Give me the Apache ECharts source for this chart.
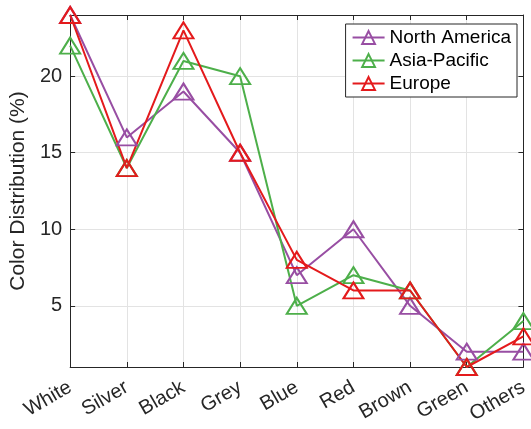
<!DOCTYPE html>
<html>
<head>
<meta charset="utf-8">
<script src="https://cdn.jsdelivr.net/npm/echarts@6/dist/echarts.min.js"></script>
<style>html,body{margin:0;padding:0;background:#fff}#c{width:531px;height:429px}</style>
</head>
<body>
<div id="c"></div>
<script>
var categories = ['White','Silver','Black','Grey','Blue','Red','Brown','Green','Others'];
var northAmerica = [24,16,19,15,7,10,5,2,2];
var asiaPacific = [22,14,21,20,5,7,6,1,4];
var europe = [24,14,23,15,8,6,6,1,3];
var yTicks = [5,10,15,20];
var seriesNames = ['North America','Asia-Pacific','Europe'];
var colors = ['#984EA3','#4DAF4A','#E41A1C'];

var font = 'Liberation Sans, Arial, Helvetica, sans-serif';
var axisColor = '#262626';
var gridColor = '#e3e3e3';

function mkSeries(name, data, color) {
  return {
    name: name, type: 'line', data: data,
    symbol: 'triangle', symbolSize: [20,16],
    lineStyle: {color: color, width: 2},
    itemStyle: {color: 'rgba(0,0,0,0)', borderColor: color, borderWidth: 2},
    clip: false,
    emphasis: {disabled: true},
    z: 3
  };
}

var chart = echarts.init(document.getElementById('c'), null, {renderer: 'canvas'});
chart.setOption({
  animation: false,
  backgroundColor: '#fff',
  grid: {left: 65, right: 5, top: 15, bottom: 62, containLabel: false},
  legend: {
    orient: 'vertical', right: 14, top: 24,
    padding: [4, 6, 4, 6], itemGap: 4, itemWidth: 32, itemHeight: 16,
    borderColor: axisColor, borderWidth: 1, backgroundColor: '#fff',
    textStyle: {fontSize: 19, color: '#000', fontFamily: font},
    data: seriesNames
  },
  xAxis: [{
    type: 'category', data: categories, boundaryGap: false,
    axisLine: {lineStyle: {color: axisColor, width: 1}},
    axisTick: {inside: true, length: 5, interval: 0, lineStyle: {color: axisColor}},
    axisLabel: {rotate: 30, fontSize: 20, color: axisColor, fontFamily: font, margin: 19, interval: 0},
    splitLine: {show: true, interval: 0, lineStyle: {color: gridColor, width: 1}}
  }, {
    type: 'category', data: categories, boundaryGap: false, position: 'top',
    axisLine: {lineStyle: {color: axisColor, width: 1}},
    axisTick: {inside: true, length: 5, interval: 0, lineStyle: {color: axisColor}},
    axisLabel: {show: false},
    splitLine: {show: false}
  }],
  yAxis: [{
    type: 'value', min: 1, max: 24,
    name: 'Color Distribution (%)', nameLocation: 'middle', nameGap: 34,
    nameTextStyle: {fontSize: 21, color: axisColor, fontFamily: font},
    axisLine: {show: true, lineStyle: {color: axisColor, width: 1}},
    axisTick: {show: true, inside: true, length: 5, customValues: yTicks, lineStyle: {color: axisColor}},
    axisLabel: {fontSize: 20, color: axisColor, fontFamily: font, margin: 8, customValues: yTicks},
    splitLine: {show: true, lineStyle: {color: gridColor, width: 1}}
  }, {
    type: 'value', min: 1, max: 24, position: 'right',
    axisLine: {show: true, lineStyle: {color: axisColor, width: 1}},
    axisTick: {show: true, inside: true, length: 5, customValues: yTicks, lineStyle: {color: axisColor}},
    axisLabel: {show: false, customValues: yTicks},
    splitLine: {show: false}
  }],
  series: [
    mkSeries(seriesNames[0], northAmerica, colors[0]),
    mkSeries(seriesNames[1], asiaPacific, colors[1]),
    mkSeries(seriesNames[2], europe, colors[2])
  ]
});
</script>
</body>
</html>
